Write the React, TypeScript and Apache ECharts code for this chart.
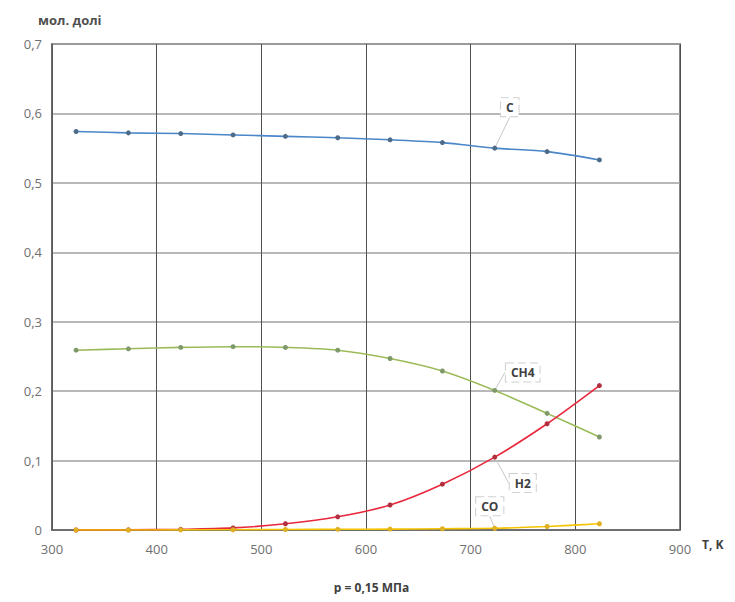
import React, { useEffect, useRef } from "react";
import * as echarts from "echarts";

const temps = [323, 373, 423, 473, 523, 573, 623, 673, 723, 773, 823];
const cVals = [0.574, 0.572, 0.571, 0.569, 0.567, 0.565, 0.562, 0.558, 0.550, 0.545, 0.533];
const ch4Vals = [0.259, 0.261, 0.263, 0.264, 0.263, 0.259, 0.247, 0.229, 0.201, 0.168, 0.134];
const h2Vals = [0.0, 0.0003, 0.001, 0.003, 0.009, 0.019, 0.036, 0.066, 0.105, 0.153, 0.208];
const coVals = [0.0, 0.0, 0.0002, 0.0004, 0.0007, 0.001, 0.0013, 0.0018, 0.0025, 0.005, 0.009];

const seriesNames = ["C", "CH4", "H2", "CO"];
const labelIndex = 8;
const labelOffsets = [
  [15, -41],
  [28, -18],
  [28, 26],
  [-5, -22],
];

const FONT = "'Open Sans', 'Noto Sans', sans-serif";

export default function App() {
  const ref = useRef<HTMLDivElement>(null);
  useEffect(() => {
    if (!ref.current) return;
    const chart = echarts.init(ref.current, undefined, { renderer: "svg" });
    const lineColors = ["#4a86c8", "#9bbb59", "#e8283c", "#f5c400"];
    const markerColors = ["#4f6b8a", "#7f9a6a", "#b03040", "#e0b020"];
    const allVals = [cVals, ch4Vals, h2Vals, coVals];
    const series = allVals.map((vals, si) => ({
      name: seriesNames[si],
      type: "line",
      smooth: 0.3,
      symbol: "circle",
      symbolSize: 5,
      lineStyle: { color: lineColors[si], width: 1.6 },
      itemStyle: { color: markerColors[si] },
      data: vals.map((v, i) => {
        if (i === labelIndex) {
          return {
            value: [temps[i], v],
            label: {
              show: true,
              position: "inside",
              formatter: seriesNames[si],
              color: "#404040",
              fontWeight: "bold",
              fontSize: 12,
              fontFamily: FONT,
              backgroundColor: "#ffffff",
              borderColor: "#d0d0d0",
              borderWidth: 1,
              borderType: "dashed",
              padding: [3, 5],
            },
            labelLine: { show: true, lineStyle: { color: "#c8c8c8", width: 1 } },
          };
        }
        return { value: [temps[i], v] };
      }),
      labelLayout: (params: any) => {
        if (params.dataIndex === labelIndex) {
          return { dx: labelOffsets[si][0], dy: labelOffsets[si][1] };
        }
        return {};
      },
      z: 3,
    }));

    chart.setOption({
      animation: false,
      backgroundColor: "#ffffff",
      grid: {
        left: 44,
        right: 55,
        top: 36,
        bottom: 64,
        show: true,
        borderColor: "#606060",
        borderWidth: 1.5,
      },
      xAxis: {
        type: "value",
        min: 300,
        max: 900,
        interval: 100,
        axisLine: { show: true, lineStyle: { color: "#606060", width: 1.5 } },
        axisTick: { show: false },
        axisLabel: { color: "#707070", fontSize: 13, fontFamily: FONT, margin: 12 },
        splitLine: { show: true, lineStyle: { color: "#505050", width: 1 } },
        name: "T, K",
        nameLocation: "end",
        nameGap: 22,
        nameTextStyle: {
          color: "#404040",
          fontWeight: "bold",
          fontSize: 12,
          fontFamily: FONT,
          verticalAlign: "top",
          padding: [8, 0, 0, 0],
        },
      },
      yAxis: {
        type: "value",
        min: 0,
        max: 0.7,
        interval: 0.1,
        axisLine: { show: true, lineStyle: { color: "#606060", width: 1.5 } },
        axisTick: { show: false },
        axisLabel: {
          color: "#707070",
          fontSize: 13,
          fontFamily: FONT,
          margin: 10,
          formatter: (v: number) => (v === 0 ? "0" : v.toFixed(1).replace(".", ",")),
        },
        splitLine: { show: true, lineStyle: { color: "#a0a0a0", width: 1.5 } },
        name: "мол. долі",
        nameLocation: "end",
        nameGap: 18,
        nameTextStyle: {
          color: "#505050",
          fontWeight: "bold",
          fontSize: 13,
          fontFamily: FONT,
          align: "left",
          padding: [0, 0, 0, -14],
        },
      },
      graphic: [
        {
          type: "text",
          left: "center",
          top: 573,
          style: {
            text: "р = 0,15 МПа",
            fill: "#404040",
            font: `bold 12px ${FONT}`,
          },
        },
      ],
      series,
    });
    return () => chart.dispose();
  }, []);
  return <div ref={ref} style={{ width: 727, height: 586 }} />;
}
